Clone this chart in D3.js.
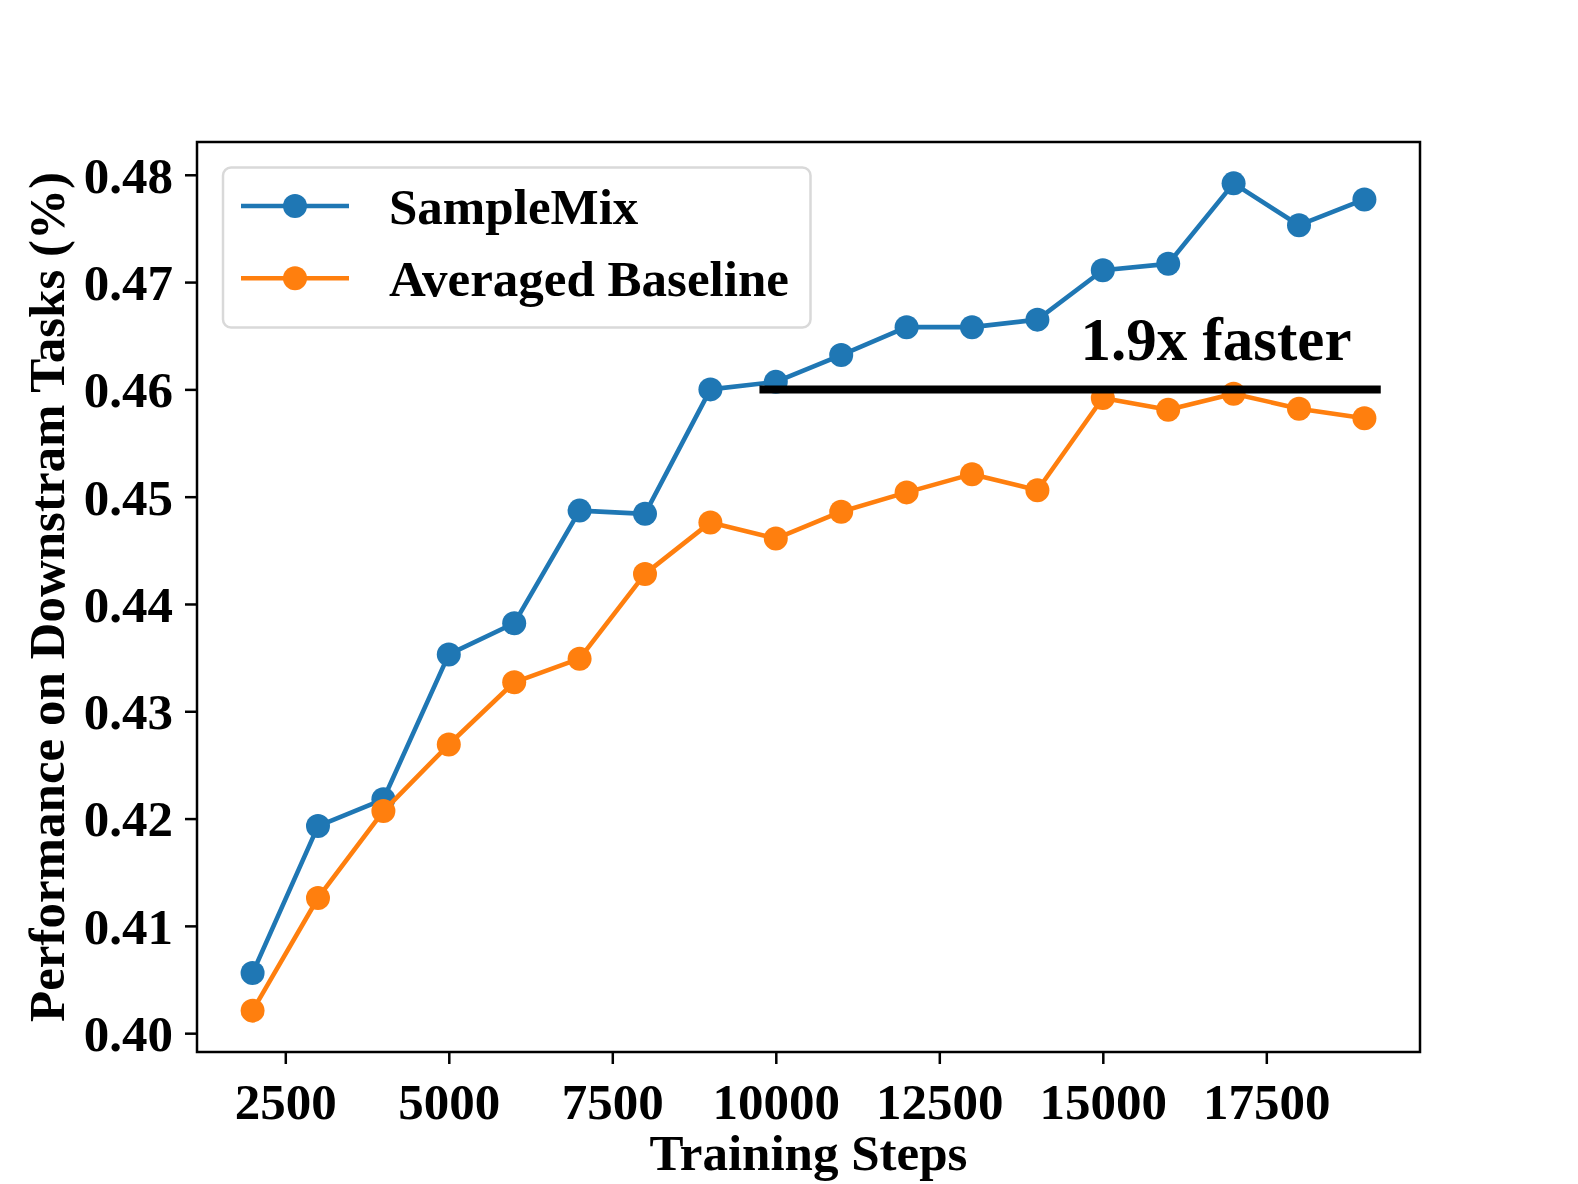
<!DOCTYPE html>
<html>
<head>
<meta charset="utf-8">
<script src="https://cdn.jsdelivr.net/npm/d3@7"></script>
<style>
  html, body { margin: 0; padding: 0; background: #fff; }
  svg { display: block; }
  text { font-family: "Liberation Serif", "Times New Roman", serif; font-weight: bold; fill: #000; }
</style>
</head>
<body>
<svg id="chart" width="1578" height="1184"></svg>
<script>
const steps = [2000, 3000, 4000, 5000, 6000, 7000, 8000, 9000, 10000, 11000, 12000, 13000, 14000, 15000, 16000, 17000, 18000, 19000];
const sampleMix = [0.4056, 0.4193, 0.4218, 0.4353, 0.4382, 0.4487, 0.4484, 0.4600, 0.4607, 0.4632, 0.4658, 0.4658, 0.4665, 0.4711, 0.4717, 0.4792, 0.4753, 0.4777];
const baseline = [0.4021, 0.4126, 0.4207, 0.4269, 0.4327, 0.4349, 0.4428, 0.4476, 0.4461, 0.4486, 0.4504, 0.4521, 0.4506, 0.4592, 0.4581, 0.4596, 0.4582, 0.4573];
const seriesNames = ["SampleMix", "Averaged Baseline"];
const seriesColors = ["#1f77b4", "#ff7f0e"];
const xTicks = [2500, 5000, 7500, 10000, 12500, 15000, 17500];
const yTicks = [0.40, 0.41, 0.42, 0.43, 0.44, 0.45, 0.46, 0.47, 0.48];
const refLine = { value: 0.46, from: 9750, to: 19250 };
const annotation = "1.9x faster";
const xTitle = "Training Steps";
const yTitle = "Performance on Downstram Tasks (%)";

const svg = d3.select("#chart");
const L = 197, R = 1420, T = 142, B = 1052;
const FS = "51px";

const xMin = d3.min(steps), xMax = d3.max(steps);
const xPad = (xMax - xMin) * 0.05;
const allY = sampleMix.concat(baseline);
const yMin = d3.min(allY), yMax = d3.max(allY);
const yPad = (yMax - yMin) * 0.05;

const x = d3.scaleLinear().domain([xMin - xPad, xMax + xPad]).range([L, R]);
const y = d3.scaleLinear().domain([yMin - yPad, yMax + yPad]).range([B, T]);

// axes
const xAxis = svg.append("g").attr("transform", `translate(0,${B})`)
  .call(d3.axisBottom(x).tickValues(xTicks).tickFormat(d3.format("d")).tickSize(12).tickPadding(19));
const yAxis = svg.append("g").attr("transform", `translate(${L},0)`)
  .call(d3.axisLeft(y).tickValues(yTicks).tickFormat(d3.format(".2f")).tickSize(12).tickPadding(12));
[xAxis, yAxis].forEach(g => {
  g.select(".domain").remove();
  g.selectAll(".tick line").attr("stroke", "#000").attr("stroke-width", 2.5);
  g.selectAll(".tick text").style("font-size", FS).style("font-family", '"Liberation Serif", serif').style("font-weight", "bold").attr("fill", "#000");
});
xAxis.selectAll(".tick text").attr("dy", "0.71em");
yAxis.selectAll(".tick text").attr("dy", "0.34em");

// series
const dataSets = [sampleMix, baseline];
const line = d3.line().x((d, i) => x(steps[i])).y(d => y(d));
dataSets.forEach((vals, k) => {
  svg.append("path").datum(vals)
    .attr("d", line)
    .attr("fill", "none")
    .attr("stroke", seriesColors[k])
    .attr("stroke-width", 4.6)
    .attr("stroke-linejoin", "round");
  svg.append("g").selectAll("circle").data(vals).join("circle")
    .attr("cx", (d, i) => x(steps[i]))
    .attr("cy", d => y(d))
    .attr("r", 12)
    .attr("fill", seriesColors[k]);
});

// reference line
svg.append("line")
  .attr("x1", x(refLine.from)).attr("x2", x(refLine.to))
  .attr("y1", y(refLine.value)).attr("y2", y(refLine.value))
  .attr("stroke", "#000").attr("stroke-width", 8);

svg.append("text")
  .attr("x", 1216).attr("y", 360)
  .attr("text-anchor", "middle")
  .style("font-size", "61px")
  .text(annotation);

// frame
svg.append("rect")
  .attr("x", L).attr("y", T).attr("width", R - L).attr("height", B - T)
  .attr("fill", "none").attr("stroke", "#000").attr("stroke-width", 2.5);

// legend
const lg = svg.append("g");
lg.append("rect")
  .attr("x", 223).attr("y", 167.5).attr("width", 587.5).attr("height", 160)
  .attr("rx", 8).attr("ry", 8)
  .attr("fill", "#fff").attr("fill-opacity", 0.8)
  .attr("stroke", "#d9d9d9").attr("stroke-width", 2.5);
seriesNames.forEach((name, k) => {
  const ry = 206 + k * 72.3;
  lg.append("line").attr("x1", 241).attr("x2", 349).attr("y1", ry).attr("y2", ry)
    .attr("stroke", seriesColors[k]).attr("stroke-width", 4.6);
  lg.append("circle").attr("cx", 295).attr("cy", ry).attr("r", 12).attr("fill", seriesColors[k]);
  lg.append("text").attr("x", 389).attr("y", ry + 18).style("font-size", FS).text(name);
});

// axis titles
svg.append("text")
  .attr("x", (L + R) / 2).attr("y", 1170)
  .attr("text-anchor", "middle")
  .style("font-size", FS)
  .text(xTitle);
svg.append("text")
  .attr("transform", `translate(64,${(T + B) / 2}) rotate(-90)`)
  .attr("text-anchor", "middle")
  .style("font-size", FS)
  .text(yTitle);
</script>
</body>
</html>
